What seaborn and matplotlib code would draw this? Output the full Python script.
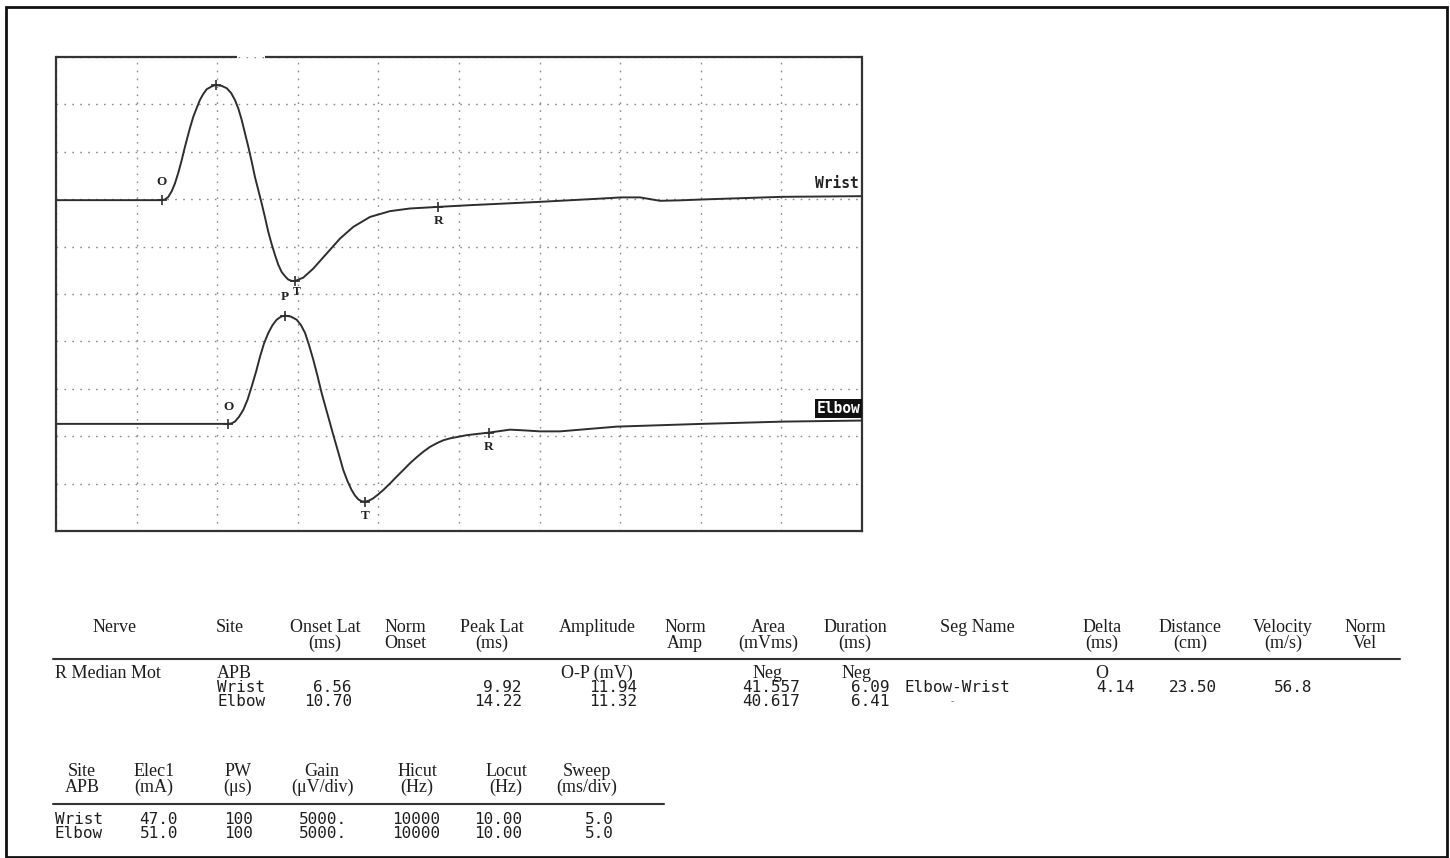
import numpy as np
import pandas as pd
import matplotlib
matplotlib.use("Agg")
import matplotlib.pyplot as plt
from matplotlib.patches import Rectangle
import seaborn as sns

# traces: latency (ms) and amplitude (mV, negative phase drawn up)
wrist_ms = [0.00, 6.56, 6.76, 6.97, 7.18, 7.38, 7.59, 7.80, 7.95, 8.11, 8.31, 8.52, 8.73,
            8.93, 9.14, 9.35, 9.66, 9.92, 10.28, 10.59, 10.86, 11.10, 11.32, 11.52, 11.72,
            11.93, 12.14, 12.34, 12.55, 12.76, 12.97, 13.17, 13.38, 13.59, 13.79, 14.00,
            14.21, 14.41, 14.61, 14.83, 15.34, 15.96, 16.79, 17.62, 18.44, 19.48, 20.72,
            21.96, 23.72, 25.68, 30.02, 33.75, 35.05, 36.23, 36.85, 37.47, 38.71, 40.06,
            45.04, 50.00]
wrist_mv = [0.00, 0.00, 0.07, 0.35, 0.95, 1.77, 2.91, 4.23, 5.29, 6.34, 7.61, 8.81, 9.73,
            10.57, 11.21, 11.70, 12.00, 12.16, 12.05, 11.81, 11.31, 10.57, 9.62, 8.46, 7.08,
            5.63, 4.07, 2.46, 1.06, -0.35, -1.85, -3.35, -4.65, -5.81, -6.82, -7.58,
            -8.03, -8.38, -8.51, -8.53, -8.17, -7.22, -5.63, -4.05, -2.82, -1.77, -1.16,
            -0.88, -0.71, -0.53, -0.18, 0.16, 0.29, 0.29, 0.11, -0.07, -0.02, 0.07,
            0.35, 0.42]

elbow_ms = [0.00, 10.70, 10.89, 11.10, 11.35, 11.62, 11.88, 12.14, 12.41, 12.66, 12.90,
            13.17, 13.43, 13.69, 13.96, 14.22, 14.58, 14.93, 15.20, 15.45, 15.69, 15.96,
            16.22, 16.48, 16.75, 17.00, 17.20, 17.41, 17.62, 17.82, 18.08, 18.34, 18.55,
            18.75, 18.95, 19.17, 19.42, 19.68, 19.98, 20.30, 20.72, 21.13, 21.55, 21.96,
            22.38, 22.79, 23.20, 23.62, 24.01, 24.44, 25.48, 26.86, 28.16, 29.09, 30.02,
            31.27, 34.78, 40.06, 45.12, 50.00]
elbow_mv = [0.00, 0.00, 0.05, 0.24, 0.74, 1.48, 2.54, 3.94, 5.50, 7.11, 8.46, 9.59, 10.41,
            10.99, 11.31, 11.42, 11.31, 10.99, 10.41, 9.59, 8.35, 6.77, 5.07, 3.25, 1.59,
            0.07, -1.16, -2.40, -3.65, -4.86, -6.03, -6.98, -7.56, -7.96, -8.16, -8.21,
            -8.09, -7.85, -7.45, -6.98, -6.29, -5.57, -4.86, -4.15, -3.51, -2.93, -2.43,
            -2.04, -1.74, -1.53, -1.19, -0.92, -0.61, -0.69, -0.79, -0.79, -0.29, 0.00,
            0.24, 0.35]

# cursors O / P / T / R
mark_names = ["O", "P", "T", "R"]
wrist_mark_ms = [6.56, 9.92, 14.83, 23.72]
wrist_mark_mv = [0.00, 12.16, -8.53, -0.71]
elbow_mark_ms = [10.70, 14.22, 19.17, 26.86]
elbow_mark_mv = [0.00, 11.42, -8.21, -0.92]

# nerve conduction table
sites = ["Wrist", "Elbow"]
onset_lat = ["6.56", "10.70"]
peak_lat = ["9.92", "14.22"]
amplitude = ["11.94", "11.32"]
area = ["41.557", "40.617"]
duration = ["6.09", "6.41"]
seg_name = "Elbow-Wrist"
delta = "4.14"
distance = "23.50"
velocity = "56.8"

# stimulus / recording settings
elec1 = ["47.0", "51.0"]
pw = ["100", "100"]
gain = ["5000.", "5000."]
hicut = ["10000", "10000"]
locut = ["10.00", "10.00"]
sweep = ["5.0", "5.0"]

sweep_ms = 5.0      # ms/div
gain_mv = 5.0       # mV/div
n_div = 10

W, H = 1450, 858
sns.set_theme(style="white")
plt.rcParams["font.family"] = ["Liberation Serif", "DejaVu Serif"]

fig = plt.figure(figsize=(W / 100, H / 100), dpi=100)
fig.patch.set_facecolor("white")


def fx(px):
    return px / W


def fy(py):
    return 1 - py / H


ax = fig.add_axes([fx(56), fy(531), fx(862) - fx(56), fy(57) - fy(531)])

# screen baselines of the two traces (mV from the bottom edge)
base = {"Wrist": 34.9, "Elbow": 11.3}
df = pd.concat([
    pd.DataFrame({"ms": wrist_ms, "mv": wrist_mv, "site": "Wrist"}),
    pd.DataFrame({"ms": elbow_ms, "mv": elbow_mv, "site": "Elbow"}),
])
df["pos"] = df["mv"] + df["site"].map(base)

trace_col = "#2e2e2e"
sns.lineplot(data=df, x="ms", y="pos", hue="site", estimator=None, sort=False,
             palette={"Wrist": trace_col, "Elbow": trace_col}, legend=False,
             linewidth=1.4, ax=ax)

marks = pd.concat([
    pd.DataFrame({"ms": wrist_mark_ms, "mv": wrist_mark_mv, "name": mark_names, "site": "Wrist"}),
    pd.DataFrame({"ms": elbow_mark_ms, "mv": elbow_mark_mv, "name": mark_names, "site": "Elbow"}),
])
marks["pos"] = marks["mv"] + marks["site"].map(base)
sns.scatterplot(data=marks, x="ms", y="pos", marker="+", s=50, linewidth=1.2,
                color=trace_col, ax=ax, zorder=4)

# label offsets in pixels (the wrist P label is not printed on the sheet)
offsets = {("Wrist", "O"): (0, 18), ("Wrist", "T"): (2, -11), ("Wrist", "R"): (0, -14),
           ("Elbow", "O"): (0, 17), ("Elbow", "P"): (0, 19), ("Elbow", "T"): (0, -14),
           ("Elbow", "R"): (0, -14)}
for _, r in marks.iterrows():
    key = (r["site"], r["name"])
    if key not in offsets:
        continue
    ax.annotate(r["name"], (r["ms"], r["pos"]), xytext=offsets[key],
                textcoords="offset pixels", ha="center", va="center",
                fontsize=9.5 if key != ("Wrist", "T") else 8.5, fontweight="bold",
                color="#222222")

ax.text(49.8, base["Wrist"] + 1.8, "Wrist", ha="right", va="center",
        family="DejaVu Sans Mono", fontweight="bold", fontsize=10.5, color="#222222")
ax.text(49.9, base["Elbow"] + 1.6, "Elbow", ha="right", va="center",
        family="DejaVu Sans Mono", fontweight="bold", fontsize=10.5, color="white",
        bbox=dict(boxstyle="square,pad=0.12", fc="#111111", ec="none"))

ax.set_xlim(0, n_div * sweep_ms)
ax.set_ylim(0, n_div * gain_mv)
ax.set_xticks(np.arange(0, n_div * sweep_ms + 0.1, sweep_ms))
ax.set_yticks(np.arange(0, n_div * gain_mv + 0.1, gain_mv))
ax.tick_params(length=0, labelbottom=False, labelleft=False)
ax.set_xlabel("")
ax.set_ylabel("")
ax.grid(True, linestyle=(0, (1.2, 4.5)), color="#8a8a8a", linewidth=1.0)
for s in ["left", "right", "bottom"]:
    ax.spines[s].set_color("#333333")
    ax.spines[s].set_linewidth(1.6)
ax.spines["top"].set_visible(False)
gap0, gap1 = (237 - 56) / 806, (265 - 56) / 806
for a, b in [(0, gap0), (gap1, 1)]:
    ax.plot([a, b], [1, 1], transform=ax.transAxes, color="#333333", lw=1.6,
            clip_on=False, solid_capstyle="butt")

# page frame
fig.add_artist(Rectangle((fx(6), fy(857)), fx(1447) - fx(6), fy(7) - fy(857),
                         transform=fig.transFigure, fill=False, ec="#111111", lw=2.0))

ink = "#1e1e1e"
SER = 13
MONO = 11.5


def serif(x, y, s, ha="center"):
    fig.text(fx(x), fy(y), s, ha=ha, va="center", fontsize=SER, color=ink)


def mono(x, y, s, ha="right"):
    fig.text(fx(x), fy(y), s, ha=ha, va="center", fontsize=MONO, color=ink,
             family="DejaVu Sans Mono")


# ---- results table
h1, h2 = 627, 643
headers = [(115, "Nerve", None), (230, "Site", None), (325, "Onset Lat", "(ms)"),
           (405, "Norm", "Onset"), (492, "Peak Lat", "(ms)"), (597, "Amplitude", None),
           (685, "Norm", "Amp"), (768, "Area", "(mVms)"), (855, "Duration", "(ms)"),
           (977, "Seg Name", None), (1102, "Delta", "(ms)"), (1190, "Distance", "(cm)"),
           (1283, "Velocity", "(m/s)"), (1365, "Norm", "Vel")]
for x, a, b in headers:
    serif(x, h1, a)
    if b:
        serif(x, h2, b)
fig.add_artist(plt.Line2D([fx(53), fx(1400)], [fy(659), fy(659)], color="#333333", lw=1.5))

r1, r2, r3 = 673, 688, 702
serif(55, r1, "R Median Mot", ha="left")
serif(217, r1, "APB", ha="left")
serif(597, r1, "O-P (mV)")
serif(768, r1, "Neg")
serif(857, r1, "Neg")
serif(1102, r1, "O")
for i, ry in enumerate([r2, r3]):
    mono(217, ry, sites[i], ha="left")
    mono(352, ry, onset_lat[i])
    mono(522, ry, peak_lat[i])
    mono(637, ry, amplitude[i])
    mono(800, ry, area[i])
    mono(890, ry, duration[i])
mono(905, r2, seg_name, ha="left")
mono(1135, r2, delta)
mono(1217, r2, distance)
mono(1312, r2, velocity)
fig.text(fx(952), fy(r3), "-", ha="center", va="center", fontsize=7, color="#777777")

# ---- settings table
s1, s2 = 772, 787
set_headers = [(82, "Site", "APB"), (154, "Elec1", "(mA)"), (238, "PW", "(\u03bcs)"),
               (322, "Gain", "(\u03bcV/div)"), (417, "Hicut", "(Hz)"),
               (506, "Locut", "(Hz)"), (587, "Sweep", "(ms/div)")]
for x, a, b in set_headers:
    serif(x, s1, a)
    serif(x, s2, b)
fig.add_artist(plt.Line2D([fx(53), fx(664)], [fy(804), fy(804)], color="#333333", lw=1.5))

for i, ry in enumerate([819, 834]):
    mono(55, ry, sites[i], ha="left")
    mono(178, ry, elec1[i])
    mono(253, ry, pw[i])
    mono(347, ry, gain[i])
    mono(440, ry, hicut[i])
    mono(522, ry, locut[i])
    mono(614, ry, sweep[i])

fig.savefig("out.png", dpi=100, facecolor="white")
